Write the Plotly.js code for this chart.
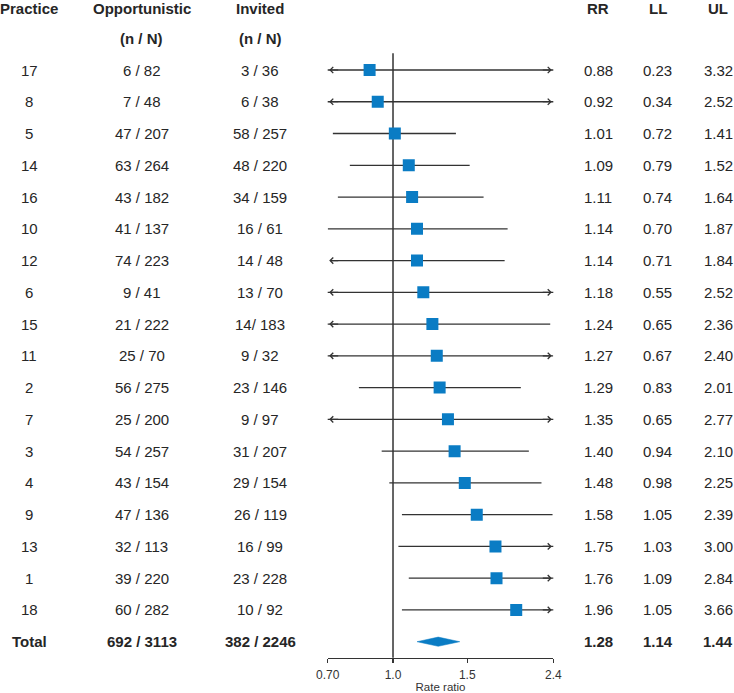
<!DOCTYPE html>
<html>
<head>
<meta charset="utf-8">
<script src="https://cdn.plot.ly/plotly-3.0.1.min.js"></script>
<style>html,body{margin:0;padding:0;background:#fff;}#chart{width:734px;height:693px;}</style>
</head>
<body>
<div id="chart"></div>
<script>
// ---- data ----
const practice = ['17','8','5','14','16','10','12','6','15','11','2','7','3','4','9','13','1','18'];
const opportunistic = ['6 / 82','7 / 48','47 / 207','63 / 264','43 / 182','41 / 137','74 / 223','9 / 41','21 / 222','25 / 70','56 / 275','25 / 200','54 / 257','43 / 154','47 / 136','32 / 113','39 / 220','60 / 282'];
const invited = ['3 / 36','6 / 38','58 / 257','48 / 220','34 / 159','16 / 61','14 / 48','13 / 70','14/ 183','9 / 32','23 / 146','9 / 97','31 / 207','29 / 154','26 / 119','16 / 99','23 / 228','10 / 92'];
const rr = [0.88,0.92,1.01,1.09,1.11,1.14,1.14,1.18,1.24,1.27,1.29,1.35,1.40,1.48,1.58,1.75,1.76,1.96];
const ll = [0.23,0.34,0.72,0.79,0.74,0.70,0.71,0.55,0.65,0.67,0.83,0.65,0.94,0.98,1.05,1.03,1.09,1.05];
const ul = [3.32,2.52,1.41,1.52,1.64,1.87,1.84,2.52,2.36,2.40,2.01,2.77,2.10,2.25,2.39,3.00,2.84,3.66];
// whether the interval is drawn with an arrow (runs past the axis) on each side
const arrowLow  = [true,true,false,false,false,false,true,true,true,true,false,true,false,false,false,false,false,false];
const arrowHigh = [true,true,false,false,false,false,false,true,false,true,false,true,false,false,false,true,true,true];
const totalLabel = 'Total';
const totalOpp = '692 / 3113';
const totalInv = '382 / 2246';
const totalRR = 1.28, totalLL = 1.14, totalUL = 1.44;
const headers1 = ['Practice','Opportunistic','Invited','RR','LL','UL'];
const headers2 = ['','(n / N)','(n / N)','','',''];
const tickVals = [0.70, 1.0, 1.5, 2.4];
const tickText = ['0.70','1.0','1.5','2.4'];
const axisMin = 0.70, axisMax = 2.4;

// ---- layout constants ----
const W = 734;
const colX = [29, 141.5, 260, 598, 657.5, 718].map(v => v / W);
const blue = '#0a7cc4';
const ink = '#333333';
const txt = '#262626';
const font = 'Liberation Sans, Arial, sans-serif';
const n = practice.length;
const totalRow = n;

const traces = [];
// reference line at RR = 1
traces.push({x:[1,1], y:[-0.53, 18.6], mode:'lines', line:{color:ink, width:1.5}, hoverinfo:'skip', showlegend:false});
// confidence intervals
const cx = [], cy = [];
for (let i = 0; i < n; i++) { cx.push(ll[i], ul[i], null); cy.push(i, i, null); }
traces.push({x:cx, y:cy, mode:'lines', line:{color:ink, width:1.3}, hoverinfo:'skip', showlegend:false, connectgaps:false});
// point estimates
traces.push({x:rr, y:rr.map((_, i) => i), mode:'markers', marker:{symbol:'square', size:12, color:blue, line:{width:0}}, showlegend:false});
// pooled diamond
const dh = 0.145;
traces.push({x:[totalLL, totalRR, totalUL, totalRR, totalLL], y:[totalRow, totalRow - dh, totalRow, totalRow + dh, totalRow],
  mode:'lines', fill:'toself', fillcolor:blue, line:{color:blue, width:0.5}, showlegend:false, hoverinfo:'skip'});

const ann = [];
function txtAnn(col, y, text, bold) {
  ann.push({xref:'paper', yref:'y', x:colX[col], y:y, text: bold ? '<b>' + text + '</b>' : text,
    showarrow:false, xanchor:'center', yanchor:'middle', font:{family:font, size:15, color:txt}});
}
headers1.forEach((h, c) => { if (h) txtAnn(c, -1.95, h, true); });
headers2.forEach((h, c) => { if (h) txtAnn(c, -1.0, h, true); });
for (let i = 0; i < n; i++) {
  txtAnn(0, i, practice[i]);
  txtAnn(1, i, opportunistic[i]);
  txtAnn(2, i, invited[i]);
  txtAnn(3, i, rr[i].toFixed(2));
  txtAnn(4, i, ll[i].toFixed(2));
  txtAnn(5, i, ul[i].toFixed(2));
}
txtAnn(0, totalRow, totalLabel, true);
txtAnn(1, totalRow, totalOpp, true);
txtAnn(2, totalRow, totalInv, true);
txtAnn(3, totalRow, totalRR.toFixed(2), true);
txtAnn(4, totalRow, totalLL.toFixed(2), true);
txtAnn(5, totalRow, totalUL.toFixed(2), true);
// arrow heads where intervals run off the axis
for (let i = 0; i < n; i++) {
  if (arrowLow[i]) ann.push({xref:'x', yref:'y', x:Math.log10(axisMin), y:i, ax:12, ay:0, text:'', showarrow:true,
    arrowhead:4, arrowsize:1, arrowwidth:1.2, arrowcolor:ink, standoff:1.5});
  if (arrowHigh[i]) ann.push({xref:'x', yref:'y', x:Math.log10(axisMax), y:i, ax:-12, ay:0, text:'', showarrow:true,
    arrowhead:4, arrowsize:1, arrowwidth:1.2, arrowcolor:ink, standoff:1.5});
}

const layout = {
  width:734, height:693,
  margin:{l:0, r:0, t:0, b:0},
  paper_bgcolor:'#ffffff', plot_bgcolor:'rgba(0,0,0,0)',
  showlegend:false,
  font:{family:font, color:txt},
  xaxis:{type:'log', domain:[327.7/W, 553.3/W], range:[Math.log10(axisMin), Math.log10(axisMax)],
    tickvals:tickVals, ticktext:tickText, ticks:'outside', ticklen:4, tickwidth:1.3, tickcolor:ink,
    ticklabelstandoff:2,
    showline:true, linecolor:ink, linewidth:1.3, showgrid:false, zeroline:false,
    tickfont:{family:font, size:12, color:'#333'},
    title:{text:'Rate ratio', font:{family:font, size:11.5, color:'#333'}, standoff:1}, automargin:false, fixedrange:true},
  yaxis:{domain:[(693-657.7)/693, 1], range:[18.504, -2.204], visible:false, showgrid:false, zeroline:false, fixedrange:true},
  annotations: ann
};
Plotly.newPlot('chart', traces, layout, {staticPlot:true, displayModeBar:false});
</script>
</body>
</html>
